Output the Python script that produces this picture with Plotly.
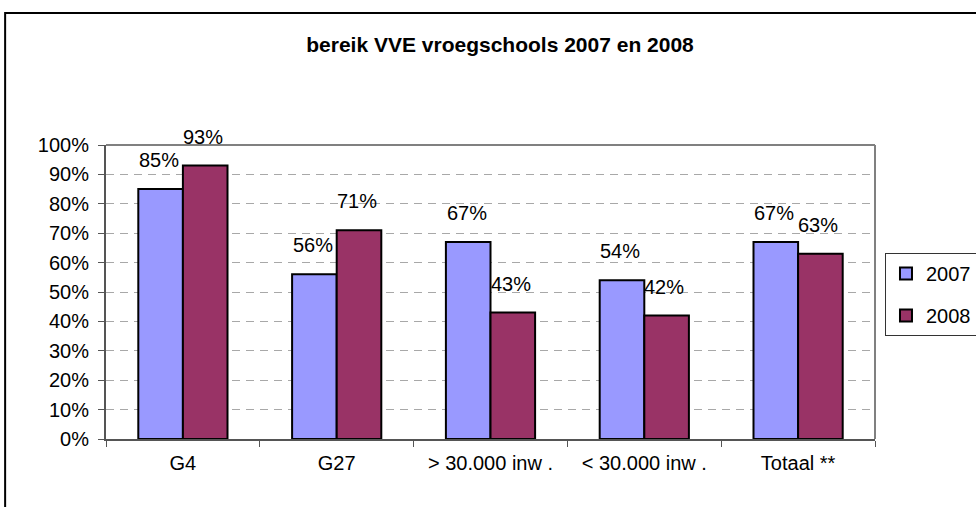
import plotly.graph_objects as go

categories = ["G4", "G27", "> 30.000 inw .", "< 30.000 inw .", "Totaal **"]
v2007 = [85, 56, 67, 54, 67]
v2008 = [93, 71, 43, 42, 63]
y_ticks = list(range(0, 101, 10))
y_ticklabels = [f"{t}%" for t in y_ticks]

FONT = "Liberation Sans, Arial, sans-serif"
series = [("2007", v2007, "#9999FF", -24), ("2008", v2008, "#993366", 20)]

fig = go.Figure()
for name, vals, col, _ in series:
    fig.add_trace(go.Bar(
        x=categories, y=vals, name=name, legendgroup=name,
        marker=dict(color=col, line=dict(color="black", width=2)),
    ))

annotations = []
for name, vals, col, xs in series:
    for c, v in zip(categories, vals):
        annotations.append(dict(x=c, y=v, xref="x", yref="y", text=f"{v}%",
                                showarrow=False, xanchor="center", yanchor="bottom",
                                xshift=xs, yshift=16,
                                font=dict(family=FONT, size=20, color="black")))

fig.update_layout(
    width=976, height=507,
    margin=dict(l=106, r=101, t=145, b=68, autoexpand=False),
    paper_bgcolor="white", plot_bgcolor="white",
    barmode="group", bargap=0.42, bargroupgap=0,
    title=dict(text="<b>bereik VVE vroegschools 2007 en 2008</b>",
               x=500 / 976, xref="container", xanchor="center",
               y=1 - 45 / 507, yref="container", yanchor="middle",
               font=dict(family=FONT, size=21, color="black")),
    font=dict(family=FONT, size=20, color="black"),
    showlegend=True,
    legend=dict(x=(886 - 106) / 770, y=(439 - 253) / 294, xanchor="left", yanchor="top",
                bordercolor="#333333", borderwidth=1, bgcolor="white",
                itemwidth=30,
                font=dict(family=FONT, size=20), tracegroupgap=13),
    annotations=annotations,
    shapes=[dict(type="rect", xref="paper", yref="paper",
                 x0=(5 - 106) / 770, x1=1.3, y0=-0.5, y1=(439 - 13) / 294,
                 line=dict(color="black", width=2), layer="below")],
)
fig.update_xaxes(showline=True, linecolor="#555555", linewidth=2, mirror=False,
                 ticks="outside", tickson="boundaries", ticklen=6, tickcolor="#555555",
                 ticklabelstandoff=5,
                 tickfont=dict(family=FONT, size=20))
fig.update_yaxes(range=[0, 100], tickvals=y_ticks, ticktext=y_ticklabels,
                 showline=True, linecolor="#555555", linewidth=2, mirror=False,
                 ticks="outside", ticklen=6, tickcolor="#555555",
                 ticklabelstandoff=5,
                 showgrid=True, gridcolor="#A8A8A8", griddash="8px,6px", gridwidth=1,
                 tickfont=dict(family=FONT, size=20), zeroline=False)
fig.add_shape(type="line", xref="paper", yref="paper", x0=0, x1=1, y0=1, y1=1,
              line=dict(color="#808080", width=2))
fig.add_shape(type="line", xref="paper", yref="paper", x0=1, x1=1, y0=0, y1=1,
              line=dict(color="#808080", width=2))

fig.write_html("out.html", config={"displayModeBar": False},
               post_script="document.body.style.margin='0';")
